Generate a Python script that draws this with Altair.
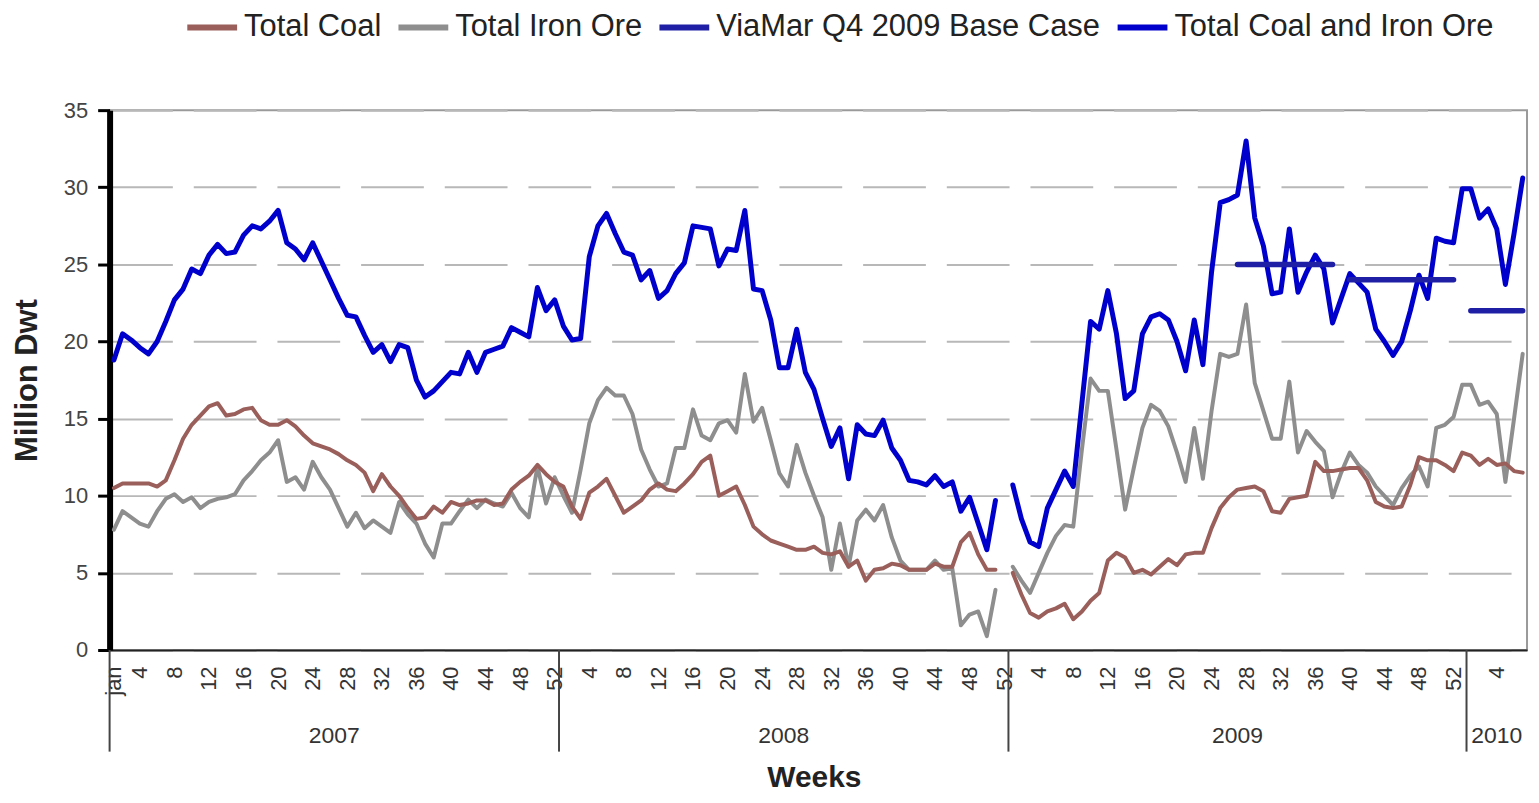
import altair as alt
import pandas as pd

# ---------------- data (weekly index: 0 = week 1 of 2007) ----------------
year_names = ["2007", "2008", "2009", "2010"]
weeks_per_year = [52, 52, 53, 7]

tick_index = [0, 3, 7, 11, 15, 19, 23, 27, 31, 35, 39, 43, 47, 51,
              55, 59, 63, 67, 71, 75, 79, 83, 87, 91, 95, 99, 103,
              107, 111, 115, 119, 123, 127, 131, 135, 139, 143, 147, 151, 155,
              160]
tick_text = ["jan", "4", "8", "12", "16", "20", "24", "28", "32", "36", "40", "44", "48", "52",
             "4", "8", "12", "16", "20", "24", "28", "32", "36", "40", "44", "48", "52",
             "4", "8", "12", "16", "20", "24", "28", "32", "36", "40", "44", "48", "52",
             "4"]

total_coal = [
    10.5, 10.8, 10.8, 10.8, 10.8, 10.6, 11.0, 12.3, 13.7, 14.6,
    15.2, 15.8, 16.0, 15.2, 15.3, 15.6, 15.7, 14.9, 14.6, 14.6,
    14.9, 14.5, 13.9, 13.4, 13.2, 13.0, 12.7, 12.3, 12.0, 11.5,
    10.3, 11.4, 10.6, 10.0, 9.2, 8.5, 8.6, 9.3, 8.9, 9.6,
    9.4, 9.5, 9.7, 9.7, 9.4, 9.5, 10.4, 10.9, 11.3, 12.0,
    11.4, 10.9, 10.6, 9.3, 8.5, 10.2, 10.6, 11.1, 10.0, 8.9,
    9.3, 9.7, 10.4, 10.8, 10.4, 10.3, 10.8, 11.4, 12.2, 12.6,
    10.0, 10.3, 10.6, 9.4, 8.0, 7.5, 7.1, 6.9, 6.7, 6.5,
    6.5, 6.7, 6.3, 6.2, 6.4, 5.4, 5.8, 4.5, 5.2, 5.3,
    5.6, 5.5, 5.2, 5.2, 5.2, 5.6, 5.4, 5.4, 7.0, 7.6,
    6.2, 5.2, 5.2, None, 5.0, 3.6, 2.4, 2.1, 2.5, 2.7,
    3.0, 2.0, 2.5, 3.2, 3.7, 5.8, 6.3, 6.0, 5.0, 5.2,
    4.9, 5.4, 5.9, 5.5, 6.2, 6.3, 6.3, 7.9, 9.2, 9.9,
    10.4, 10.5, 10.6, 10.3, 9.0, 8.9, 9.8, 9.9, 10.0, 12.2,
    11.6, 11.6, 11.7, 11.8, 11.8, 11.0, 9.6, 9.3, 9.2, 9.3,
    10.7, 12.5, 12.3, 12.3, 12.0, 11.6, 12.8, 12.6, 12.0, 12.4,
    12.0, 12.1, 11.6, 11.5,
]

total_iron_ore = [
    7.8, 9.0, 8.6, 8.2, 8.0, 9.0, 9.8, 10.1, 9.6, 9.9,
    9.2, 9.6, 9.8, 9.9, 10.1, 11.0, 11.6, 12.3, 12.8, 13.6,
    10.9, 11.2, 10.4, 12.2, 11.2, 10.4, 9.2, 8.0, 8.9, 7.9,
    8.4, 8.0, 7.6, 9.6, 8.8, 8.2, 6.9, 6.0, 8.2, 8.2,
    9.0, 9.75, 9.2, 9.75, 9.5, 9.3, 10.2, 9.2, 8.6, 11.9,
    9.5, 11.2, 10.0, 8.9, 11.7, 14.7, 16.2, 17.0, 16.5, 16.5,
    15.3, 13.0, 11.7, 10.6, 10.8, 13.1, 13.1, 15.6, 13.9, 13.6,
    14.7, 14.9, 14.1, 17.9, 14.8, 15.7, 13.6, 11.45, 10.6, 13.3,
    11.5, 10.0, 8.6, 5.2, 8.2, 5.4, 8.4, 9.1, 8.4, 9.4,
    7.3, 5.8, 5.2, 5.2, 5.2, 5.8, 5.2, 5.3, 1.6, 2.3,
    2.5, 0.9, 3.9, None, 5.4, 4.5, 3.7, 5.0, 6.3, 7.4,
    8.1, 8.0, 13.0, 17.6, 16.8, 16.8, 13.0, 9.1, 11.8, 14.4,
    15.9, 15.5, 14.5, 12.8, 10.9, 14.4, 11.1, 15.5, 19.2, 19.0,
    19.2, 22.4, 17.3, 15.5, 13.7, 13.7, 17.4, 12.8, 14.2, 13.5,
    12.9, 9.9, 11.5, 12.8, 12.0, 11.5, 10.6, 10.0, 9.4, 10.5,
    11.3, 11.9, 10.6, 14.4, 14.6, 15.1, 17.2, 17.2, 15.9, 16.1,
    15.3, 10.9, 15.0, 19.2,
]

total_coal_and_iron = [
    18.8, 20.5, 20.1, 19.6, 19.2, 20.0, 21.3, 22.7, 23.4, 24.7,
    24.4, 25.6, 26.3, 25.7, 25.8, 26.9, 27.5, 27.3, 27.8, 28.5,
    26.4, 26.0, 25.3, 26.4, 25.2, 24.0, 22.8, 21.7, 21.6, 20.4,
    19.3, 19.8, 18.7, 19.8, 19.6, 17.5, 16.4, 16.8, 17.4, 18.0,
    17.9, 19.3, 18.0, 19.3, 19.5, 19.7, 20.9, 20.6, 20.3, 23.5,
    22.0, 22.7, 21.0, 20.1, 20.2, 25.5, 27.5, 28.3, 27.0, 25.8,
    25.6, 24.0, 24.6, 22.8, 23.3, 24.4, 25.1, 27.5, 27.4, 27.3,
    24.9, 26.0, 25.9, 28.5, 23.4, 23.3, 21.4, 18.3, 18.3, 20.8,
    18.0, 16.9, 15.0, 13.2, 14.4, 11.1, 14.6, 14.0, 13.9, 14.9,
    13.1, 12.3, 11.0, 10.9, 10.7, 11.3, 10.6, 10.9, 9.0, 9.9,
    8.2, 6.5, 9.7, None, 10.7, 8.5, 7.0, 6.7, 9.2, 10.4,
    11.6, 10.6, 16.0, 21.3, 20.8, 23.3, 20.5, 16.3, 16.8, 20.5,
    21.6, 21.8, 21.4, 20.0, 18.1, 21.4, 18.5, 24.5, 29.0, 29.2,
    29.5, 33.0, 28.0, 26.2, 23.1, 23.2, 27.3, 23.2, 24.5, 25.6,
    24.7, 21.2, 22.8, 24.4, 23.8, 23.2, 20.8, 20.0, 19.1, 20.0,
    22.0, 24.3, 22.8, 26.7, 26.5, 26.4, 29.9, 29.9, 28.0, 28.6,
    27.3, 23.7, 27.0, 30.6,
]

# ViaMar Q4 2009 base case: flat levels over week ranges
viamar_value = [25.0, 24.0, 22.0]
viamar_start = [130, 143, 157]
viamar_end = [141, 155, 163]

series_names = ["Total Coal", "Total Iron Ore", "ViaMar Q4 2009 Base Case",
                "Total Coal and Iron Ore"]
series_colors = ["#9a5f5a", "#8e8e8e", "#1f1fa6", "#0000cc"]

# ---------------- build tables ----------------
def to_rows(name, vals):
    out, part, prev = [], 0, None
    for i, v in enumerate(vals):
        if v is None:
            if prev is not None:
                part += 1
        else:
            out.append({"series": name, "week": i, "value": v, "part": f"{name}-{part}"})
        prev = v
    return out

rows = []
rows += to_rows("Total Coal", total_coal)
rows += to_rows("Total Iron Ore", total_iron_ore)
rows += to_rows("Total Coal and Iron Ore", total_coal_and_iron)
for k, (v, s, e) in enumerate(zip(viamar_value, viamar_start, viamar_end)):
    for w in range(s, e + 1):
        rows.append({"series": "ViaMar Q4 2009 Base Case", "week": w, "value": v,
                     "part": f"vm-{k}"})
df = pd.DataFrame(rows)

bounds, centers, acc = [], [], -0.5
for n in weeks_per_year:
    bounds.append(acc)
    centers.append(acc + n / 2)
    acc += n
sep_df = pd.DataFrame({"week": bounds[:4]})
year_df = pd.DataFrame({"week": centers, "year": year_names})
n_weeks = sum(weeks_per_year)

FONT = "Liberation Sans"
W, H = 1423, 542

lab_str = ",".join(f"'{t}'" for t in tick_text)
idx_str = ",".join(str(v) for v in tick_index)
label_expr = f"[{lab_str}][indexof([{idx_str}], datum.value)]"

x_enc = alt.X(
    "week:Q",
    scale=alt.Scale(domain=[-0.5, n_weeks - 0.5], nice=False, zero=False),
    axis=alt.Axis(
        values=tick_index, labelExpr=label_expr, labelAngle=270,
        labelAlign="right", labelBaseline="middle", labelFontSize=22,
        labelColor="#333333", labelPadding=16, labelOverlap=False,
        labelFlush=False, ticks=False, grid=False, domainColor="#222222",
        domainWidth=2, title="Weeks", titleFontSize=30, titleFontWeight="bold",
        titleColor="#222222", titleX=707, titleY=128, titleAlign="center",
        titleBaseline="middle",
    ),
)
y_enc = alt.Y(
    "value:Q",
    scale=alt.Scale(domain=[0, 35], nice=False, zero=True),
    axis=alt.Axis(
        values=[0, 5, 10, 15, 20, 25, 30, 35], grid=True, gridDash=[63, 21],
        gridColor="#b8b8b8", gridWidth=2, domainColor="#000000", domainWidth=6,
        tickColor="#000000", tickWidth=3, tickSize=12, labelFontSize=22,
        labelColor="#444444", labelPadding=10, title="Million Dwt",
        titleFontSize=31, titleFontWeight="bold", titleColor="#222222",
        titleX=-82, titleY=H / 2, titleAngle=270, titleAlign="center",
        titleBaseline="middle",
    ),
)
color_enc = alt.Color(
    "series:N",
    scale=alt.Scale(domain=series_names, range=series_colors),
    legend=alt.Legend(
        orient="none", legendX=75, legendY=-111, direction="horizontal",
        title=None, symbolType="stroke", symbolStrokeWidth=6, symbolSize=2500,
        labelFontSize=31, labelColor="#222222", labelFont=FONT, labelLimit=700,
        labelOffset=4, columnPadding=5, padding=0,
    ),
)

def line_layer(name, width):
    return (
        alt.Chart(df)
        .transform_filter(alt.datum.series == name)
        .mark_line(strokeWidth=width, strokeJoin="round", strokeCap="round")
        .encode(x=x_enc, y=y_enc, color=color_enc, detail="part:N")
    )

seps = alt.Chart(sep_df).mark_rule(color="#444444", strokeWidth=2).encode(
    x=x_enc, y=alt.value(H), y2=alt.value(H + 102)
)
years = alt.Chart(year_df).mark_text(
    fontSize=23, color="#333333", baseline="middle", align="center", font=FONT
).encode(x=x_enc, y=alt.value(H + 86), text="year:N")

chart = alt.layer(
    line_layer("Total Iron Ore", 4),
    line_layer("Total Coal", 4),
    line_layer("Total Coal and Iron Ore", 5),
    line_layer("ViaMar Q4 2009 Base Case", 5.5),
    seps,
    years,
).properties(
    width=W, height=H,
    autosize=alt.AutoSizeParams(type="none"),
    padding={"left": 102, "top": 101, "right": 4, "bottom": 142},
).configure(
    font=FONT, background="white"
).configure_view(
    stroke="#9a9a9a", strokeWidth=2
)

chart.save("out.html", embed_options={"renderer": "svg", "actions": False})
